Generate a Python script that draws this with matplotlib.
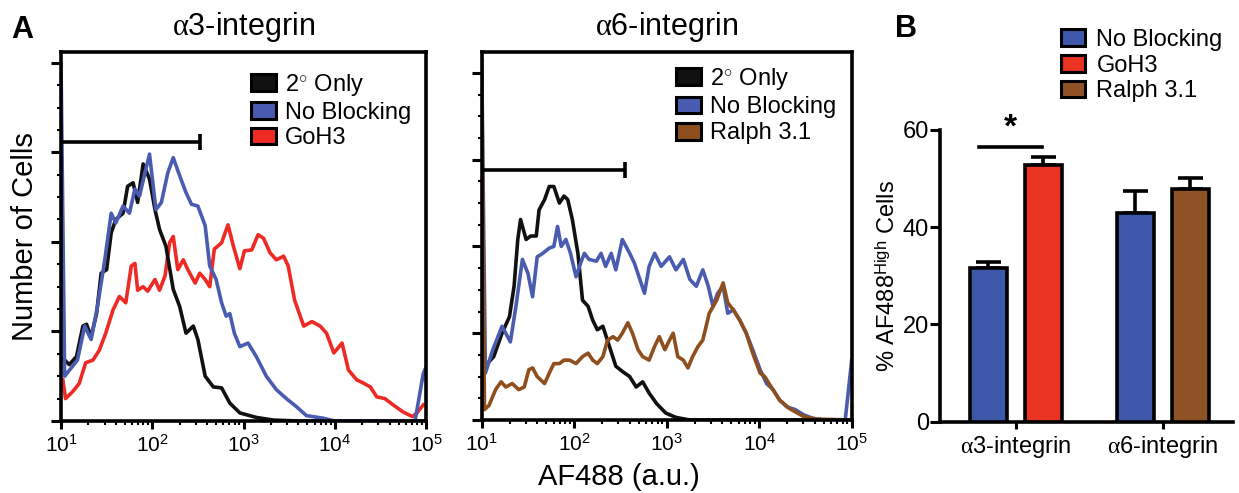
import numpy as np
import matplotlib
matplotlib.use("Agg")
import matplotlib.pyplot as plt
from matplotlib.patches import Patch
from matplotlib.ticker import AutoMinorLocator, LogLocator, NullFormatter

plt.rcParams['font.family'] = ['Liberation Sans', 'DejaVu Sans']
plt.rcParams['mathtext.fontset'] = 'custom'
plt.rcParams['mathtext.rm'] = 'Liberation Sans'
plt.rcParams['mathtext.it'] = 'Liberation Serif'
plt.rcParams['mathtext.bf'] = 'Liberation Sans:bold'

# ---- histogram data (log10 AF488, cell count in arbitrary units) ----
a3_only_x = [1.00, 1.04, 1.09, 1.17, 1.24, 1.28, 1.33, 1.39, 1.44, 1.50, 1.55, 1.60, 1.68, 1.73,
             1.79, 1.84, 1.90, 1.93, 1.97, 2.03, 2.08, 2.15, 2.23, 2.30, 2.37, 2.45, 2.50, 2.58,
             2.67, 2.76, 2.85, 2.96, 3.14, 3.33, 3.60, 5.00]
a3_only_y = [0.70, 0.68, 0.63, 0.72, 1.06, 1.08, 0.94, 1.20, 1.65, 1.69, 2.10, 2.25, 2.32, 2.62,
             2.66, 2.44, 2.87, 2.80, 2.70, 2.36, 2.14, 1.95, 1.47, 1.28, 0.98, 1.06, 0.91, 0.50,
             0.38, 0.37, 0.20, 0.09, 0.04, 0.01, 0.00, 0.00]

a3_noblock_x = [1.00, 1.04, 1.11, 1.18, 1.26, 1.33, 1.40, 1.48, 1.55, 1.60, 1.68, 1.75, 1.81, 1.86,
                1.92, 1.97, 2.04, 2.10, 2.17, 2.23, 2.30, 2.37, 2.43, 2.50, 2.58, 2.63, 2.70, 2.76,
                2.81, 2.85, 2.90, 2.96, 3.05, 3.14, 3.25, 3.36, 3.47, 3.58, 3.69, 3.88, 4.00, 4.88,
                4.97, 5.00]
a3_noblock_y = [4.00, 0.50, 0.59, 0.68, 1.06, 0.91, 1.28, 1.80, 2.32, 2.21, 2.40, 2.32, 2.59, 2.51,
                2.77, 2.98, 2.36, 2.44, 2.77, 2.94, 2.74, 2.55, 2.42, 2.40, 2.18, 1.73, 1.58, 1.32,
                1.17, 1.20, 0.98, 0.83, 0.87, 0.72, 0.50, 0.35, 0.25, 0.16, 0.06, 0.03, 0.00, 0.00,
                0.53, 0.60]

a3_goh3_x = [1.02, 1.05, 1.13, 1.20, 1.27, 1.35, 1.42, 1.49, 1.57, 1.64, 1.71, 1.77, 1.81, 1.84,
             1.90, 1.95, 2.03, 2.08, 2.14, 2.19, 2.23, 2.28, 2.34, 2.39, 2.47, 2.52, 2.58, 2.63,
             2.68, 2.76, 2.83, 2.89, 2.96, 3.01, 3.09, 3.16, 3.22, 3.29, 3.36, 3.44, 3.49, 3.56,
             3.66, 3.75, 3.84, 3.91, 3.99, 4.08, 4.15, 4.24, 4.32, 4.39, 4.46, 4.55, 4.64, 4.75,
             4.85, 4.90, 4.97]
a3_goh3_y = [0.46, 0.25, 0.33, 0.42, 0.65, 0.68, 0.79, 0.98, 1.24, 1.39, 1.32, 1.73, 1.76, 1.46,
             1.50, 1.45, 1.58, 1.46, 1.62, 1.99, 2.06, 1.69, 1.80, 1.69, 1.54, 1.65, 1.58, 1.50,
             1.92, 1.99, 2.19, 1.95, 1.70, 1.90, 1.91, 2.08, 2.04, 1.88, 1.80, 1.84, 1.73, 1.35,
             1.06, 1.11, 1.06, 0.98, 0.76, 0.87, 0.57, 0.46, 0.42, 0.38, 0.27, 0.25, 0.18, 0.10,
             0.05, 0.09, 0.18]

a6_only_x = [1.02, 1.06, 1.13, 1.22, 1.30, 1.35, 1.39, 1.42, 1.48, 1.53, 1.59, 1.62, 1.68, 1.73,
             1.78, 1.84, 1.89, 1.93, 1.98, 2.04, 2.09, 2.15, 2.20, 2.25, 2.31, 2.38, 2.45, 2.52,
             2.60, 2.67, 2.74, 2.81, 2.89, 2.99, 3.10, 3.25, 5.00]
a6_only_y = [0.62, 0.65, 0.73, 1.00, 1.19, 1.54, 2.08, 2.31, 2.08, 2.12, 2.12, 2.42, 2.54, 2.69,
             2.69, 2.50, 2.58, 2.54, 2.31, 1.92, 1.38, 1.31, 1.15, 1.04, 1.08, 0.85, 0.62, 0.56,
             0.50, 0.38, 0.44, 0.31, 0.19, 0.08, 0.03, 0.00, 0.00]

a6_noblock_x = [1.00, 1.04, 1.12, 1.22, 1.31, 1.37, 1.44, 1.50, 1.55, 1.60, 1.66, 1.73, 1.78, 1.82,
                1.86, 1.91, 1.96, 2.02, 2.07, 2.11, 2.16, 2.24, 2.29, 2.34, 2.40, 2.45, 2.52, 2.60,
                2.65, 2.71, 2.76, 2.81, 2.87, 2.94, 3.03, 3.10, 3.18, 3.25, 3.32, 3.39, 3.45, 3.50,
                3.55, 3.61, 3.66, 3.72, 3.79, 3.86, 3.93, 4.01, 4.08, 4.15, 4.22, 4.30, 4.39, 4.48,
                4.58, 4.69, 4.93, 5.00]
a6_noblock_y = [4.15, 0.54, 0.81, 1.08, 0.90, 1.31, 1.85, 1.69, 1.42, 1.88, 1.92, 1.98, 2.00, 2.23,
                2.00, 2.08, 1.92, 1.65, 1.81, 1.92, 1.85, 1.83, 1.92, 1.77, 1.92, 1.73, 2.08, 1.92,
                1.81, 1.62, 1.46, 1.77, 1.92, 1.77, 1.88, 1.73, 1.85, 1.62, 1.54, 1.73, 1.54, 1.31,
                1.46, 1.54, 1.23, 1.27, 1.15, 1.00, 0.81, 0.58, 0.42, 0.35, 0.23, 0.15, 0.12, 0.06,
                0.02, 0.00, 0.00, 0.69]

a6_ralph_x = [1.00, 1.03, 1.08, 1.15, 1.21, 1.26, 1.33, 1.40, 1.46, 1.51, 1.55, 1.60, 1.68, 1.73,
              1.78, 1.84, 1.89, 1.95, 2.02, 2.09, 2.15, 2.20, 2.25, 2.31, 2.36, 2.42, 2.47, 2.52,
              2.58, 2.63, 2.69, 2.74, 2.81, 2.87, 2.92, 2.98, 3.03, 3.07, 3.12, 3.18, 3.23, 3.28,
              3.34, 3.39, 3.46, 3.54, 3.61, 3.66, 3.72, 3.79, 3.86, 3.93, 4.01, 4.06, 4.13, 4.22,
              4.33, 4.48, 4.62, 5.00]
a6_ralph_y = [4.15, 0.12, 0.17, 0.35, 0.44, 0.38, 0.42, 0.35, 0.38, 0.58, 0.60, 0.50, 0.42, 0.54,
              0.65, 0.65, 0.69, 0.69, 0.65, 0.73, 0.77, 0.69, 0.65, 0.73, 0.92, 0.96, 0.92, 1.00,
              1.12, 1.00, 0.81, 0.73, 0.69, 0.85, 0.96, 0.81, 0.92, 1.00, 0.73, 0.69, 0.60, 0.73,
              0.85, 0.92, 1.23, 1.38, 1.58, 1.35, 1.27, 1.15, 1.00, 0.77, 0.54, 0.50, 0.38, 0.23,
              0.13, 0.04, 0.01, 0.00]

gate_a3 = (10, 330, 3.12)
gate_a6 = (10, 355, 2.88)

# ---- bar data ----
bar_groups = ['$\\alpha$3-integrin', '$\\alpha$6-integrin']
bar_means = [31.6, 52.7, 42.9, 47.8]
bar_sem = [1.2, 1.7, 4.6, 2.3]

c_black = '#111111'
c_blue = '#4a5cb0'
c_red = '#ee2a24'
c_brown = '#8e4e1e'
bar_colors = ['#3d58a8', '#e93323', '#3d58a8', '#8f5224']

W, H = 1239, 493
fig = plt.figure(figsize=(W / 100, H / 100), dpi=100)
LW = 2.6
SW = 2.6


def px(x, y):
    return (x / W, 1 - y / H)


def hist_axes(rect, ymax):
    ax = fig.add_axes(rect)
    ax.set_xscale('log')
    ax.set_xlim(10, 1e5)
    ax.set_ylim(0, ymax)
    ax.xaxis.set_major_locator(LogLocator(base=10, numticks=10))
    ax.xaxis.set_minor_locator(LogLocator(base=10, subs=np.arange(2, 10), numticks=10))
    ax.xaxis.set_minor_formatter(NullFormatter())
    ax.set_yticks([0, 1, 2, 3, 4])
    ax.yaxis.set_minor_locator(AutoMinorLocator(4))
    ax.set_yticklabels([])
    ax.tick_params(axis='x', which='major', direction='out', length=6, width=2.2, labelsize=15, pad=3)
    ax.tick_params(axis='x', which='minor', direction='out', length=3, width=1.5)
    ax.tick_params(axis='y', which='major', direction='out', length=7, width=2.2)
    ax.tick_params(axis='y', which='minor', direction='out', length=3, width=1.5)
    for s in ax.spines.values():
        s.set_linewidth(SW)
    return ax


def gate(ax, g):
    x0, x1, y = g
    ax.plot([x0, x1], [y, y], color='black', lw=SW, solid_capstyle='butt', clip_on=False, zorder=5)
    ax.plot([x1, x1], [y - 0.09, y + 0.09], color='black', lw=SW, solid_capstyle='butt', zorder=5)


ax1 = hist_axes([61 / W, 1 - 421 / H, 365 / W, 369 / H], 4.12)
ax1.plot(10 ** np.array(a3_goh3_x), a3_goh3_y, color=c_red, lw=LW)
ax1.plot(10 ** np.array(a3_only_x), a3_only_y, color=c_black, lw=LW)
ax1.plot(10 ** np.array(a3_noblock_x), a3_noblock_y, color=c_blue, lw=LW)
gate(ax1, gate_a3)
ax1.set_title('$\\alpha$3-integrin', fontsize=22, pad=12)
ax1.set_ylabel('Number of Cells', fontsize=21, labelpad=5)
h1 = [Patch(facecolor=c, edgecolor='black', lw=2.2) for c in [c_black, c_blue, c_red]]
ax1.legend(h1, ['2$^{\\circ}$ Only', 'No Blocking', 'GoH3'], loc='upper left',
           bbox_to_anchor=px(251, 72), bbox_transform=fig.transFigure, frameon=False,
           fontsize=17, handlelength=1.05, handleheight=0.7, handletextpad=0.4,
           labelspacing=0.15, borderpad=0, borderaxespad=0)

ax2 = hist_axes([481.7 / W, 1 - 420 / H, 370 / W, 368 / H], 4.24)
ax2.plot(10 ** np.array(a6_only_x), a6_only_y, color=c_black, lw=LW)
ax2.plot(10 ** np.array(a6_noblock_x), a6_noblock_y, color=c_blue, lw=LW)
ax2.plot(10 ** np.array(a6_ralph_x), a6_ralph_y, color=c_brown, lw=LW)
gate(ax2, gate_a6)
ax2.set_title('$\\alpha$6-integrin', fontsize=22, pad=12)
h2 = [Patch(facecolor=c, edgecolor='black', lw=2.2) for c in [c_black, c_blue, c_brown]]
ax2.legend(h2, ['2$^{\\circ}$ Only', 'No Blocking', 'Ralph 3.1'], loc='upper left',
           bbox_to_anchor=px(676, 66), bbox_transform=fig.transFigure, frameon=False,
           fontsize=17, handlelength=1.05, handleheight=0.7, handletextpad=0.4,
           labelspacing=0.18, borderpad=0, borderaxespad=0)

fig.text(*px(619, 485), 'AF488 (a.u.)', fontsize=21, ha='center', va='baseline')
fig.text(*px(22, 30), 'A', fontsize=22, fontweight='bold', ha='center', va='center')
fig.text(*px(906, 29), 'B', fontsize=22, fontweight='bold', ha='center', va='center')

# ---- bar chart ----
ax3 = fig.add_axes([940 / W, 1 - 421.7 / H, 293 / W, 291.7 / H])
off, bw = 0.187, 0.248
bar_x = [0 - off, 0 + off, 1 - off, 1 + off]
ax3.bar(bar_x, bar_means, width=bw, color=bar_colors, edgecolor='black', linewidth=SW, zorder=3)
ax3.errorbar(bar_x, bar_means, yerr=[np.zeros(4), bar_sem], fmt='none', ecolor='black',
             elinewidth=SW, capsize=9, capthick=SW, zorder=2)
ax3.set_xlim(-0.516, 1.477)
ax3.set_ylim(0, 60)
ax3.set_yticks([0, 20, 40, 60])
ax3.set_xticks([0, 1])
ax3.set_xticklabels(bar_groups, fontsize=17)
ax3.tick_params(axis='y', direction='out', length=7, width=2.2, labelsize=17, pad=1)
ax3.tick_params(axis='x', direction='out', length=5, width=2.2, pad=4)
for s in ['top', 'right']:
    ax3.spines[s].set_visible(False)
for s in ['left', 'bottom']:
    ax3.spines[s].set_linewidth(SW)
ax3.set_ylabel('% AF488$^{\\mathregular{High}}$ Cells', fontsize=17, labelpad=2)
ax3.plot([-0.251, 0.176], [56.6, 56.6], color='black', lw=SW, clip_on=False)
ax3.text(-0.04, 57.3, '*', fontsize=24, fontweight='bold', ha='center', va='bottom')
h3 = [Patch(facecolor=c, edgecolor='black', lw=2.2) for c in ['#3d58a8', '#e93323', '#8f5224']]
ax3.legend(h3, ['No Blocking', 'GoH3', 'Ralph 3.1'], loc='upper left',
           bbox_to_anchor=px(1061, 29), bbox_transform=fig.transFigure, frameon=False,
           fontsize=17, handlelength=1.0, handleheight=0.7, handletextpad=0.5,
           labelspacing=0.15, borderpad=0, borderaxespad=0)

fig.savefig('out.png', dpi=100)
